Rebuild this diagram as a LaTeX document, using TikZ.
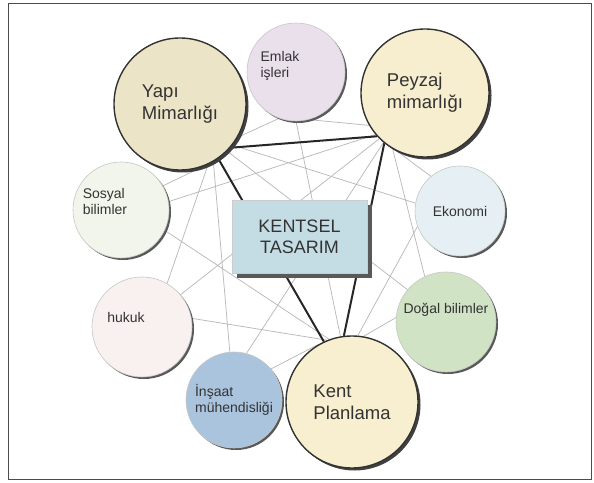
\documentclass[tikz,border=0pt]{standalone}
\usepackage{fontspec}
\setmainfont{Liberation Sans}
\usepackage{xcolor}
\usepackage{tikz}
\usetikzlibrary{shadows}
\definecolor{YapiBeige}{RGB}{236, 228, 198}
\definecolor{PeyzajCream}{RGB}{246, 238, 206}
\definecolor{KentCream}{RGB}{247, 239, 208}
\definecolor{EmlakLilac}{RGB}{234, 224, 236}
\definecolor{SosyalWhite}{RGB}{242, 245, 236}
\definecolor{HukukPink}{RGB}{249, 240, 240}
\definecolor{InsaatBlue}{RGB}{170, 196, 222}
\definecolor{EkonomiBlue}{RGB}{230, 240, 244}
\definecolor{DogalGreen}{RGB}{208, 227, 196}
\definecolor{KutuBlue}{RGB}{196, 221, 228}
\pgfdeclarelayer{bg}
\pgfsetlayers{bg,main}

\begin{document}
\begin{tikzpicture}[
          x=1pt, y=1pt,
          bigc/.style={circle, draw=black!80, line width=1.4pt, minimum size=#1, inner sep=0pt, align=left, text=black!80, font=\fontsize{18.5}{22}\selectfont, drop shadow={shadow xshift=2.5pt, shadow yshift=-2.5pt, fill=black!75, opacity=1}},
          smallc/.style={circle, draw=gray!45, line width=0.6pt, minimum size=#1, inner sep=0pt, align=left, text=black!80, font=\fontsize{14}{16}\selectfont, drop shadow={shadow xshift=2pt, shadow yshift=-2pt, fill=black!65, opacity=1}},
          lbl/.style={align=left, text=black!80, font=\fontsize{14}{16}\selectfont},
          kutu/.style={rectangle, draw=gray!40, fill=KutuBlue, minimum width=135pt, minimum height=73pt, align=center, text=black!80, font=\fontsize{18}{21}\selectfont, drop shadow={shadow xshift=5pt, shadow yshift=-5pt, fill=black!65, opacity=1}},
          link/.style={draw=gray!55, line width=0.75pt},
          strong/.style={draw=black!85, line width=2pt}
        ]
          \useasboundingbox (0,0) rectangle (594,482);
          \draw[black!70, line width=0.8pt] (8,3) rectangle (591,479);

          \node[bigc=132pt, fill=YapiBeige] (yapi) at (180,378) {Yapı\\Mimarlığı};
          \node[bigc=128pt, fill=PeyzajCream] (peyzaj) at (425,389) {Peyzaj\\mimarlığı};
          \node[bigc=132pt, fill=KentCream] (kent) at (352,80) {Kent\\Planlama};
          \node[smallc=98pt, fill=EmlakLilac, label={[lbl, xshift=-16pt, yshift=6pt]center:Emlak\\işleri}] (emlak) at (296,410) {};
          \node[smallc=96pt, fill=SosyalWhite, label={[lbl, xshift=-16pt, yshift=9pt]center:Sosyal\\bilimler}] (sosyal) at (121,272) {};
          \node[smallc=100pt, fill=HukukPink, label={[lbl, xshift=-16pt, yshift=10pt]center:hukuk}] (hukuk) at (142,155) {};
          \node[smallc=96pt, fill=InsaatBlue] (insaat) at (234,82) {İnşaat\\mühendisliği};
          \node[smallc=90pt, fill=EkonomiBlue] (ekonomi) at (460,271) {Ekonomi};
          \node[smallc=100pt, fill=DogalGreen, label={[lbl, yshift=12pt]center:Doğal bilimler}] (dogal) at (446,160) {};
          \node[kutu] (kentsel) at (299.5,245.5) {KENTSEL\\TASARIM};

          \begin{pgfonlayer}{bg}
          % ince baglantilar
          \draw[link] (emlak.-110) -- (yapi.-30);
          \draw[link] (emlak.-75) -- (peyzaj.-150);
          \draw[link] (emlak.-90) -- (kent.100);
          \draw[link] (sosyal.30) -- (yapi.-70);
          \draw[link] (sosyal.10) -- (peyzaj.-140);
          \draw[link] (sosyal.-25) -- (kent.110);
          \draw[link] (hukuk.60) -- (yapi.-65);
          \draw[link] (hukuk.40) -- (peyzaj.-135);
          \draw[link] (hukuk.10) -- (kent.112);
          \draw[link] (insaat.95) -- (yapi.-60);
          \draw[link] (insaat.75) -- (peyzaj.-130);
          \draw[link] (insaat.40) -- (kent.120);
          \draw[link] (ekonomi.170) -- (yapi.-38);
          \draw[link] (ekonomi.130) -- (peyzaj.-115);
          \draw[link] (ekonomi.200) -- (kent.85);
          \draw[link] (dogal.140) -- (yapi.-45);
          \draw[link] (dogal.115) -- (peyzaj.-120);
          \draw[link] (dogal.175) -- (kent.80);
          % kalin baglantilar
          \draw[strong] (yapi.-41) -- (peyzaj.-138);
          \draw[strong] (yapi.-55) -- (kent.115);
          \draw[strong] (peyzaj.-129) -- (kent.97);
          \end{pgfonlayer}
        \end{tikzpicture}
\end{document}
